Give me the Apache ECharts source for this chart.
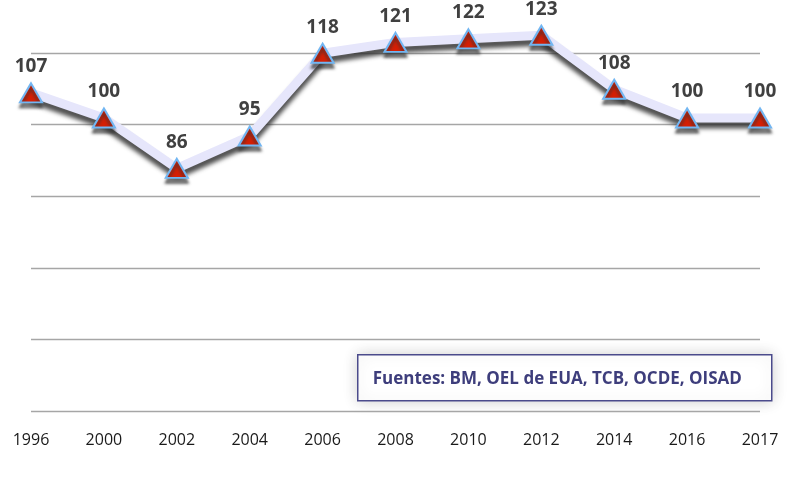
<!DOCTYPE html>
<html>
<head>
<meta charset="utf-8">
<script src="https://cdn.jsdelivr.net/npm/echarts@6/dist/echarts.min.js"></script>
<style>
  html, body { margin: 0; padding: 0; background: #fff; }
  #main { width: 792px; height: 493px; }
</style>
</head>
<body>
<div id="main"></div>
<script>
// datos del grafico
var years = ['1996', '2000', '2002', '2004', '2006', '2008', '2010', '2012', '2014', '2016', '2017'];
var values = [107, 100, 86, 95, 118, 121, 122, 123, 108, 100, 100];
var gridTicks = [0, 20, 40, 60, 80, 100]; // lineas guia (sin etiquetas)
var sourceText = 'Fuentes: BM, OEL de EUA, TCB, OCDE, OISAD';

var chart = echarts.init(document.getElementById('main'));

var option = {
    backgroundColor: '#ffffff',
    animation: false,
    grid: { left: 31, right: 32, top: 53, bottom: 82 },
    xAxis: {
        type: 'category',
        data: years,
        boundaryGap: false,
        axisLine: { show: false },
        axisTick: { show: false },
        axisLabel: { color: '#1a1a1a', fontSize: 16, fontFamily: 'Open Sans', margin: 21 }
    },
    yAxis: [{
        // eje de los datos, oculto
        type: 'value',
        min: 18.6,
        max: 118.06,
        show: false,
        splitLine: { show: false }
    }, {
        // eje de las lineas guia
        type: 'value',
        min: gridTicks[0],
        max: gridTicks[gridTicks.length - 1],
        interval: 20,
        axisLine: { show: false },
        axisTick: { show: false },
        axisLabel: { show: false },
        splitLine: { show: true, lineStyle: { color: '#a6a6a6', width: 1.3 } }
    }],
    series: [{
        type: 'line',
        yAxisIndex: 0,
        data: values,
        clip: false,
        symbol: 'triangle',
        symbolSize: [22, 19],
        lineStyle: {
            color: '#e6e6fb', width: 9,
            shadowColor: 'rgba(50,50,50,0.85)', shadowBlur: 4, shadowOffsetY: 6
        },
        itemStyle: {
            color: '#d41f05', borderColor: '#72b6f2', borderWidth: 2,
            shadowColor: 'rgba(50,50,50,0.65)', shadowBlur: 3, shadowOffsetY: 5
        },
        label: {
            show: true, position: 'top', distance: 6,
            color: '#404040', fontSize: 19, fontWeight: 'bold', fontFamily: 'Open Sans'
        }
    }],
    graphic: [{
        type: 'group',
        left: 357, top: 354,
        children: [{
            type: 'rect',
            shape: { x: 0, y: 0, width: 414, height: 46 },
            style: {
                fill: '#ffffff', stroke: '#4b4b8c', lineWidth: 1.5,
                shadowColor: 'rgba(0,0,0,0.18)', shadowBlur: 14
            }
        }, {
            type: 'text',
            x: 15, y: 24,
            style: {
                text: sourceText, fill: '#3e3e7c',
                font: 'bold 17px "Open Sans"', verticalAlign: 'middle'
            }
        }]
    }]
};

chart.setOption(option);
</script>
</body>
</html>
